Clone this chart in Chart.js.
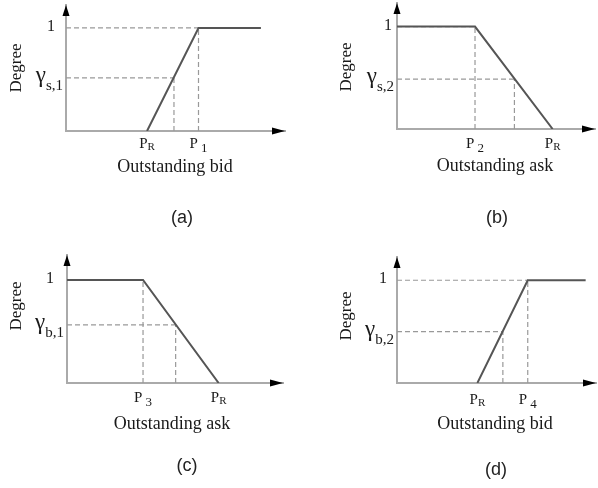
<!DOCTYPE html>
<html><head><meta charset="utf-8">
<script src="https://cdn.jsdelivr.net/npm/chart.js@4/dist/chart.umd.min.js"></script>
<style>
body{margin:0;background:#fff;width:598px;height:488px;overflow:hidden;position:relative}
canvas{position:absolute;left:0;top:0}
</style></head>
<body>
<canvas id="c0" width="598" height="488"></canvas>
<canvas id="c1" width="598" height="488"></canvas>
<canvas id="c2" width="598" height="488"></canvas>
<canvas id="c3" width="598" height="488"></canvas>
<script>
// ---- data ----
const panelCaptions = ['(a)', '(b)', '(c)', '(d)'];
const xTitles = ['Outstanding bid', 'Outstanding ask', 'Outstanding ask', 'Outstanding bid'];
const gammaSubs = ['s,1', 's,2', 'b,1', 'b,2'];
const yTopValue = ['1', '1', '1', '1'];

const curveAx = [3.70, 6.05, 8.90], curveAy = [0, 1, 1];
const curveBx = [0, 3.94, 7.86],    curveBy = [1, 1, 0];
const curveCx = [0, 3.52, 7.02],    curveCy = [1, 1, 0];
const curveDx = [4.04, 6.57, 9.48], curveDy = [0, 1, 1];

const kneeX = [6.05, 3.94, 3.52, 6.57];
const gammaY = [0.515, 0.487, 0.564, 0.50];
const gammaX = [4.93, 5.93, 5.03, 5.32];

const tickValsA = [3.70, 6.05], tickNamesA = [['P','R'], ['P','1']];
const tickValsB = [3.94, 7.86], tickNamesB = [['P','2'], ['P','R']];
const tickValsC = [3.52, 7.02], tickNamesC = [['P','3'], ['P','R']];
const tickValsD = [4.04, 6.57], tickNamesD = [['P','R'], ['P','4']];

const yMaxes = [1.223, 1.23, 1.242, 1.226];

// ---- layout (pixels) ----
const layouts = [
 {left:66, right:285, top:5, bottom:131, oneDx:-11, degX:17, degY:68, tickDy:17, titleX:175, titleY:172, capX:182, capY:223},
 {left:397, right:595, top:3, bottom:129, oneDx:-5, degX:347, degY:67, tickDy:19, titleX:495, titleY:171, capX:497, capY:223},
 {left:67, right:283, top:255, bottom:383, oneDx:-13, degX:17, degY:306, tickDy:19, titleX:172, titleY:429, capX:187, capY:471},
 {left:397, right:596, top:257, bottom:383, oneDx:-10, degX:347, degY:316, tickDy:21, titleX:495, titleY:429, capX:496, capY:475}
];

const curves = [[curveAx, curveAy], [curveBx, curveBy], [curveCx, curveCy], [curveDx, curveDy]];
const tickVals = [tickValsA, tickValsB, tickValsC, tickValsD];
const tickNames = [tickNamesA, tickNamesB, tickNamesC, tickNamesD];

const SERIF = '"Liberation Serif", "Times New Roman", serif';
const SANS = '"Liberation Sans", Arial, sans-serif';
const TEXT = '#1a1a1a';

function seg(x0, y0, x1, y1) {
  return {data: [{x:x0, y:y0}, {x:x1, y:y1}], borderColor:'#999999', borderWidth:1.2,
    borderDash:[5,3], pointRadius:0, tension:0, fill:false};
}

function drawSub(ctx, cx, base, main, sub, mainPx, subPx, subDy, gap) {
  ctx.font = mainPx + 'px ' + SERIF; const wm = ctx.measureText(main).width;
  ctx.font = subPx + 'px ' + SERIF; const ws = ctx.measureText(sub).width;
  const x0 = cx - (wm + gap + ws) / 2;
  ctx.textAlign = 'left'; ctx.textBaseline = 'alphabetic';
  ctx.font = mainPx + 'px ' + SERIF; ctx.fillText(main, x0, base);
  ctx.font = subPx + 'px ' + SERIF; ctx.fillText(sub, x0 + wm + gap, base + subDy);
}

function makePanel(i) {
  const L = layouts[i];
  const [cx, cy] = curves[i];
  const k = kneeX[i], g = gammaY[i], gx = gammaX[i];
  const datasets = [
    {data: cx.map((x, j) => ({x, y: cy[j]})), borderColor:'#555555', borderWidth:2,
      pointRadius:0, tension:0, fill:false},
    seg(0, 1, k, 1), seg(k, 0, k, 1), seg(0, g, gx, g), seg(gx, 0, gx, g)
  ];
  const labelPlugin = {
    id: 'labels' + i,
    afterDraw(chart) {
      const ctx = chart.ctx, a = chart.chartArea;
      const xs = chart.scales.x, ys = chart.scales.y;
      ctx.save();
      // arrowheads
      ctx.fillStyle = '#000';
      ctx.beginPath();
      ctx.moveTo(a.left, a.top); ctx.lineTo(a.left - 3.5, a.top + 11); ctx.lineTo(a.left + 3.5, a.top + 11);
      ctx.closePath(); ctx.fill();
      ctx.beginPath();
      ctx.moveTo(a.right, a.bottom); ctx.lineTo(a.right - 13, a.bottom - 3.5); ctx.lineTo(a.right - 13, a.bottom + 3.5);
      ctx.closePath(); ctx.fill();
      ctx.fillStyle = TEXT;
      // "1"
      ctx.font = '16px ' + SERIF; ctx.textAlign = 'right'; ctx.textBaseline = 'middle';
      ctx.fillText(yTopValue[i], a.left + L.oneDx, ys.getPixelForValue(1) - 1);
      // gamma
      const gyPix = ys.getPixelForValue(g);
      ctx.textBaseline = 'alphabetic';
      ctx.font = '15px ' + SERIF;
      const subW = ctx.measureText(gammaSubs[i]).width;
      ctx.textAlign = 'right';
      ctx.fillText(gammaSubs[i], a.left - 3, gyPix + 12);
      ctx.font = '23px ' + SERIF;
      ctx.fillText('\u03b3', a.left - 3 - subW, gyPix + 4);
      // Degree
      ctx.save();
      ctx.translate(L.degX, L.degY); ctx.rotate(-Math.PI / 2);
      ctx.font = '17px ' + SERIF; ctx.textAlign = 'center'; ctx.textBaseline = 'middle';
      ctx.fillText('Degree', 0, 0);
      ctx.restore();
      // price ticks
      tickVals[i].forEach((v, j) => {
        const [m, s] = tickNames[i][j];
        const isDigit = /[0-9]/.test(s);
        drawSub(ctx, xs.getPixelForValue(v), a.bottom + L.tickDy, m, s, 15, isDigit ? 13 : 11,
          isDigit ? 4 : 2, isDigit ? 3 : 0);
      });
      // x title
      ctx.font = '18px ' + SERIF; ctx.textAlign = 'center'; ctx.textBaseline = 'alphabetic';
      ctx.fillText(xTitles[i], L.titleX, L.titleY);
      // caption
      ctx.font = '18px ' + SANS; ctx.fillStyle = '#222';
      ctx.fillText(panelCaptions[i], L.capX, L.capY);
      ctx.restore();
    }
  };
  const axisOpts = (max) => ({
    type:'linear', min:0, max:max,
    grid:{display:false, drawTicks:false},
    ticks:{display:false},
    border:{display:true, color:'#aaaaaa', width:2}
  });
  new Chart(document.getElementById('c' + i), {
    type:'line',
    data:{datasets},
    options:{
      responsive:false, animation:false, events:[],
      layout:{padding:{left:L.left, top:L.top, right:598 - L.right, bottom:488 - L.bottom}},
      plugins:{legend:{display:false}, tooltip:{enabled:false}, title:{display:false}},
      scales:{x:axisOpts(10), y:axisOpts(yMaxes[i])}
    },
    plugins:[labelPlugin]
  });
}
[0, 1, 2, 3].forEach(makePanel);
</script>
</body></html>
